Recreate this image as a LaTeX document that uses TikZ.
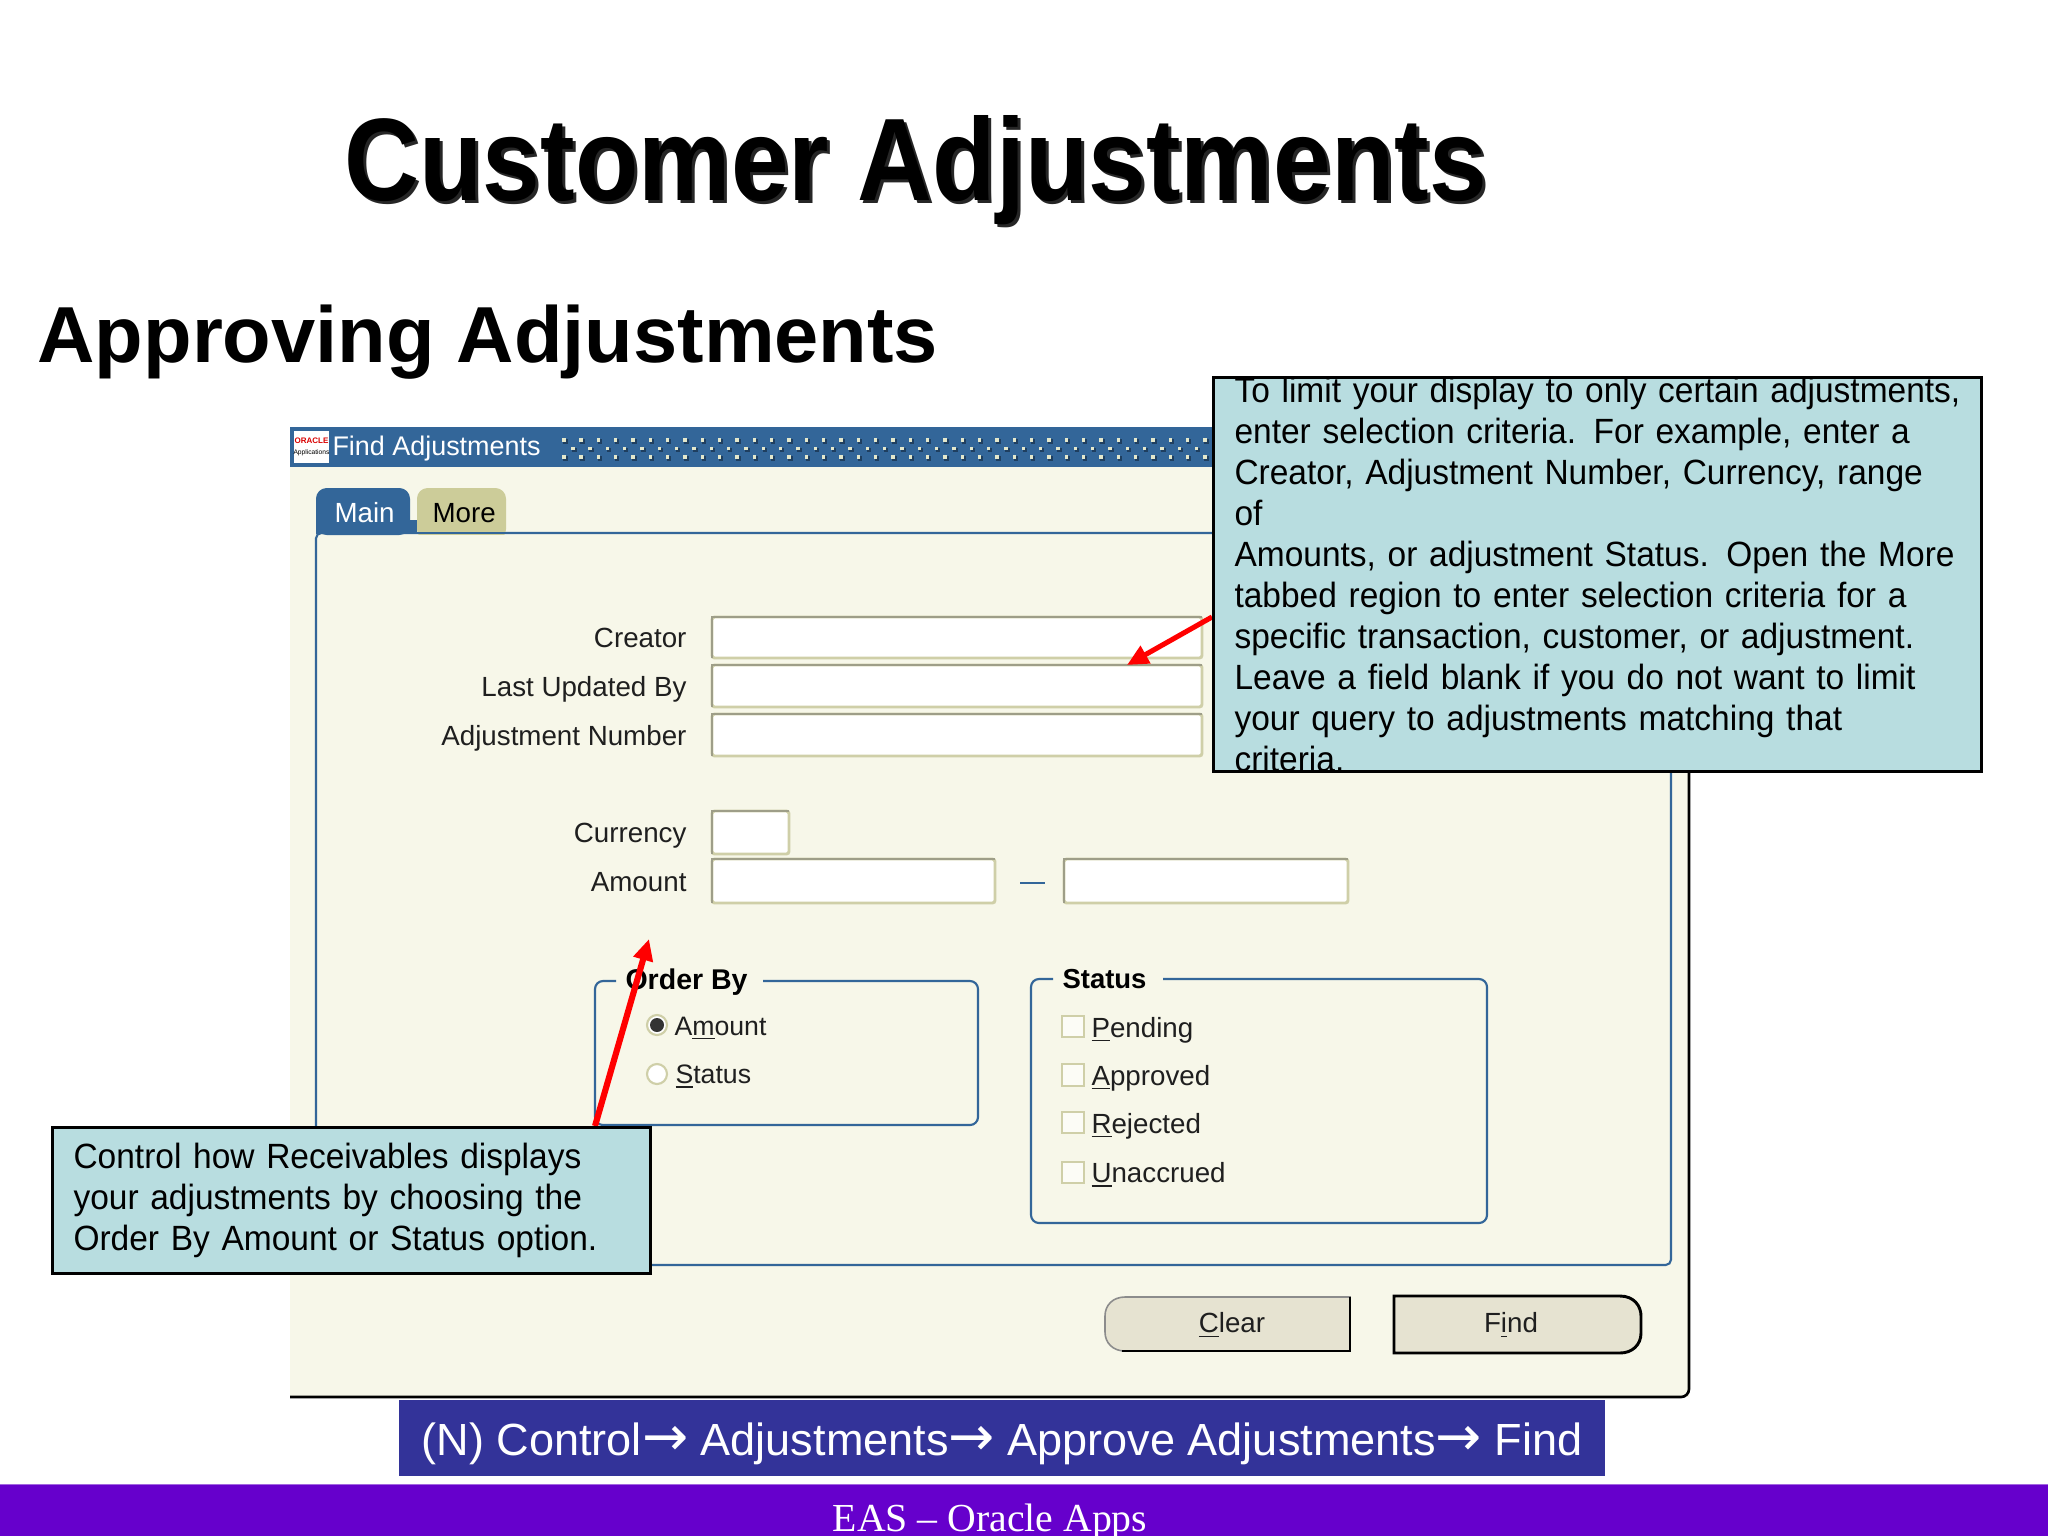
\documentclass[tikz,border=0pt]{standalone}
\usepackage{fontspec}
\setmainfont{Liberation Sans}
\newfontfamily\serifface{Liberation Serif}
\newfontfamily\arrowface{DejaVu Sans}
\newfontfamily\titleface[FakeStretch=0.885]{Liberation Sans Bold}
\newfontfamily\noteface[FakeStretch=0.955]{Liberation Sans}
\usetikzlibrary{arrows.meta,calc}
\definecolor{cream}{HTML}{F7F7E9}
\definecolor{oablue}{HTML}{336699}
\definecolor{tabolive}{HTML}{CCCC99}
\definecolor{fieldedge}{HTML}{CFCFA8}
\definecolor{fieldshade}{HTML}{9E9E88}
\definecolor{notefill}{HTML}{B8DDE0}
\definecolor{navblue}{HTML}{333399}
\definecolor{bandpurple}{HTML}{6600CC}
\definecolor{btnfill}{HTML}{E6E3D1}
\definecolor{dotpale}{HTML}{E4E8CC}
\definecolor{dotdark}{HTML}{1F3F60}
\newcommand{\keyul}[1]{\underline{#1}}
\newcommand{\fieldat}[4]{%
  \path[fieldbox] (#1,#2) rectangle (#3,#4);
  \draw[fieldshade,line width=0.5pt] (#1,#4) -- (#1,#2) -- (#3,#2);}
\newcommand{\navarrow}{{\arrowface\fontsize{20.7}{20}\selectfont →}}
\pgfdeclarelayer{bgl}
\pgfdeclarelayer{midl}
\pgfsetlayers{bgl,midl,main}
\tikzset{
  x=0.375pt,y=-0.375pt,
  ui/.style={inner sep=0pt,font=\fontsize{10.4}{12}\selectfont,text=black!88},
  uilabel/.style={ui,anchor=base east},
  uiitem/.style={ui,anchor=base west},
  radioitem/.style={ui,anchor=base west,font=\fontsize{10}{12}\selectfont},
  uibold/.style={ui,anchor=base west,font=\bfseries\fontsize{10.3}{12}\selectfont,text=black},
  fieldbox/.style={draw=fieldedge,line width=1.1pt,fill=white,rounded corners=1pt},
  groupline/.style={draw=oablue,line width=0.8pt,rounded corners=3pt},
  notebox/.style={draw=black,line width=1.1pt,fill=notefill,anchor=north west,align=left,inner ysep=0pt,inner xsep=7.9pt,
     font=\noteface\fontsize{13.15}{15.34}\selectfont,text=black},
  redarrow/.style={draw=red,-{Triangle[length=8pt,width=7.2pt]}},
  checkbox/.style={draw=fieldedge,line width=0.8pt,fill=cream!40!white},
  btn/.style={fill=btnfill},
}
\begin{document}
\begin{tikzpicture}
\path[use as bounding box] (0,0) rectangle (2048,1536);

% slide titles
\node[inner sep=0pt,anchor=base west,font=\titleface\fontsize{44}{48}\selectfont,text=black!85] (titleshadow) at (347,203) {Customer Adjustments};
\node[inner sep=0pt,anchor=base west,font=\titleface\fontsize{44}{48}\selectfont,text=black] (title) at (344,200.5) {Customer Adjustments};
\node[inner sep=0pt,anchor=base west,font=\bfseries\fontsize{29.8}{34}\selectfont,text=black] (subtitle) at (37,362) {Approving Adjustments};

\begin{pgfonlayer}{bgl}
% window
\fill[cream] (290,427) rectangle (1689,1397);
\draw[black,line width=1pt,rounded corners=3pt] (290,1397) -- (1689,1397) -- (1689,700);
\fill[oablue] (290,427) rectangle (1689,467);
\foreach \i in {0,...,37}{
  \fill[dotdark] ({563+17.33*\i},439) rectangle +(4.5,4.5);
  \fill[dotdark] ({563+17.33*\i},456) rectangle +(4.5,4.5);
  \fill[dotdark] ({572+17.33*\i},447.5) rectangle +(4.5,4.5);
  \fill[dotpale] ({562+17.33*\i},438) rectangle +(3.5,3.5);
  \fill[dotpale] ({562+17.33*\i},455) rectangle +(3.5,3.5);
  \fill[dotpale] ({571+17.33*\i},446.5) rectangle +(3.5,3.5);
}
\fill[white] (294,431) rectangle (329,463);
\node[inner sep=0pt,font=\bfseries\fontsize{3}{3}\selectfont,text=red!85!black] (logotop) at (311.5,441) {ORACLE};
\node[inner sep=0pt,font=\fontsize{2.5}{3}\selectfont,text=black] (logobottom) at (311.5,453) {Applications};
\node[inner sep=0pt,anchor=base west,font=\fontsize{10.1}{12}\selectfont,text=white] (wintitle) at (332,455) {Find Adjustments};

% tabs and pane
\draw[oablue,line width=0.8pt,rounded corners=2pt] (316,533) -- (1671,533) -- (1671,1265) -- (316,1265) -- cycle;
\fill[oablue,rounded corners=4pt] (316,535) -- (316,488) -- (410,488) -- (410,535) -- cycle;
\fill[oablue] (316,520) rectangle (417,534);
\fill[tabolive,rounded corners=4pt] (417,540) -- (417,488) -- (506,488) -- (506,540) -- cycle;
\fill[cream] (417,534.5) rectangle (507,545);
\draw[oablue,line width=0.8pt] (410,533) -- (520,533);
\node[ui,anchor=base west,text=white] (tabmain) at (334,522) {Main};
\node[ui,anchor=base west,text=black] (tabmore) at (432,522) {More};

% fields
\node[uilabel] (lcreator) at (687,647) {Creator};
\node[uilabel] (lupdated) at (687,696) {Last Updated By};
\node[uilabel] (lnumber) at (687,745) {Adjustment Number};
\node[uilabel] (lcurrency) at (687,842) {Currency};
\node[uilabel] (lamount) at (687,891) {Amount};
\fieldat{712}{617}{1202}{658}
\fieldat{712}{665}{1202}{707}
\fieldat{712}{714}{1202}{756}
\fieldat{712}{811}{789}{854}
\fieldat{712}{859}{995}{903}
\fieldat{1064}{859}{1348}{903}
\draw[oablue,line width=0.8pt] (1020,883) -- (1045,883);

% order by group
\draw[groupline] (616,981) -- (595,981) -- (595,1125) -- (978,1125) -- (978,981) -- (763,981);
\node[uibold,font=\bfseries\fontsize{10.7}{12}\selectfont] (lorder) at (625,989) {Order By};
\draw[fieldedge,line width=0.8pt,fill=white] (657,1025) circle [radius=10];
\fill[black!80] (657,1025) circle [radius=7];
\draw[fieldedge,line width=0.8pt,fill=white] (657,1074) circle [radius=10];
\node[radioitem] (ramount) at (674,1035) {A\keyul{m}ount};
\node[radioitem] (rstatus) at (675,1083) {\keyul{S}tatus};

% status group
\draw[groupline] (1053,979) -- (1031,979) -- (1031,1223) -- (1487,1223) -- (1487,979) -- (1163,979);
\node[uibold] (lstatus) at (1062,988) {Status};
\path[checkbox] (1062,1016) rectangle (1084,1037);
\path[checkbox] (1062,1064) rectangle (1084,1086);
\path[checkbox] (1062,1112) rectangle (1084,1133);
\path[checkbox] (1062,1162) rectangle (1084,1183);
\node[uiitem] (cpending) at (1091,1037) {\keyul{P}ending};
\node[uiitem] (capproved) at (1091,1085) {\keyul{A}pproved};
\node[uiitem] (crejected) at (1091,1133) {\keyul{R}ejected};
\node[uiitem] (cunaccrued) at (1091,1182) {\keyul{U}naccrued};

% buttons
\path[btn,draw=black!45,line width=0.6pt] (1125,1297) -- (1350,1297) -- (1350,1351) -- (1125,1351) .. controls (1113,1351) and (1105,1343) .. (1105,1332) -- (1105,1316) .. controls (1105,1305) and (1113,1297) .. (1125,1297) -- cycle;
\draw[black,line width=0.8pt] (1122,1351) -- (1350,1351) -- (1350,1297);
\path[btn,draw=black,line width=1.1pt] (1394,1296) -- (1620,1296) .. controls (1634,1296) and (1641,1306) .. (1641,1316) -- (1641,1333) .. controls (1641,1345) and (1632,1353) .. (1620,1353) -- (1394,1353) -- cycle;
\node[ui] (bclear) at (1232,1325) {\keyul{C}lear};
\node[ui] (bfind) at (1511,1325) {F\keyul{i}nd};

% navigation bar
\node[fill=navblue,inner sep=0pt,minimum width=452.6pt,minimum height=28.5pt,anchor=north west,
  text height=16.5pt,text depth=3pt,
  font=\fontsize{16.9}{20}\selectfont,text=white] (nav) at (398,1399)
  {(N) Control\navarrow{} Adjustments\navarrow{} Approve Adjustments\navarrow{} Find};
\end{pgfonlayer}

% purple band
\fill[bandpurple] (0,1484) rectangle (2048,1536);
\fill[bandpurple!60!white] (0,1483.5) rectangle (2048,1485);
\begin{scope}
\clip (0,1484) rectangle (2048,1536);
\node[inner sep=0pt,anchor=base,font=\serifface\fontsize{14.9}{18}\selectfont,text=white] (footer) at (990,1531) {EAS – Oracle Apps};
\end{scope}

% notes
\node[notebox,text width=272.2pt,minimum height=146.6pt] (note1) at (1212,376) {To limit your display to only certain adjustments,\\
enter selection criteria. For example, enter a\\
Creator, Adjustment Number, Currency, range of\\
Amounts, or adjustment Status. Open the More\\
tabbed region to enter selection criteria for a\\
specific transaction, customer, or adjustment.\\
Leave a field blank if you do not want to limit\\
your query to adjustments matching that\\
criteria.};
\node[notebox,text width=208.5pt,minimum height=54.9pt] (note2) at (51,1126) {Control how Receivables displays\\
your adjustments by choosing the\\
Order By Amount or Status option.};

% red arrows
\coordinate (tipA) at (1127,665);
\coordinate (tipB) at (649,939);
\begin{pgfonlayer}{midl}
\draw[redarrow,line width=1.9pt] ($(note1.north west)+(0,241)$) -- (tipA);
\draw[redarrow,line width=2.3pt] ($(note2.north west)+(544,0)$) -- (tipB);
\end{pgfonlayer}
\end{tikzpicture}
\end{document}
